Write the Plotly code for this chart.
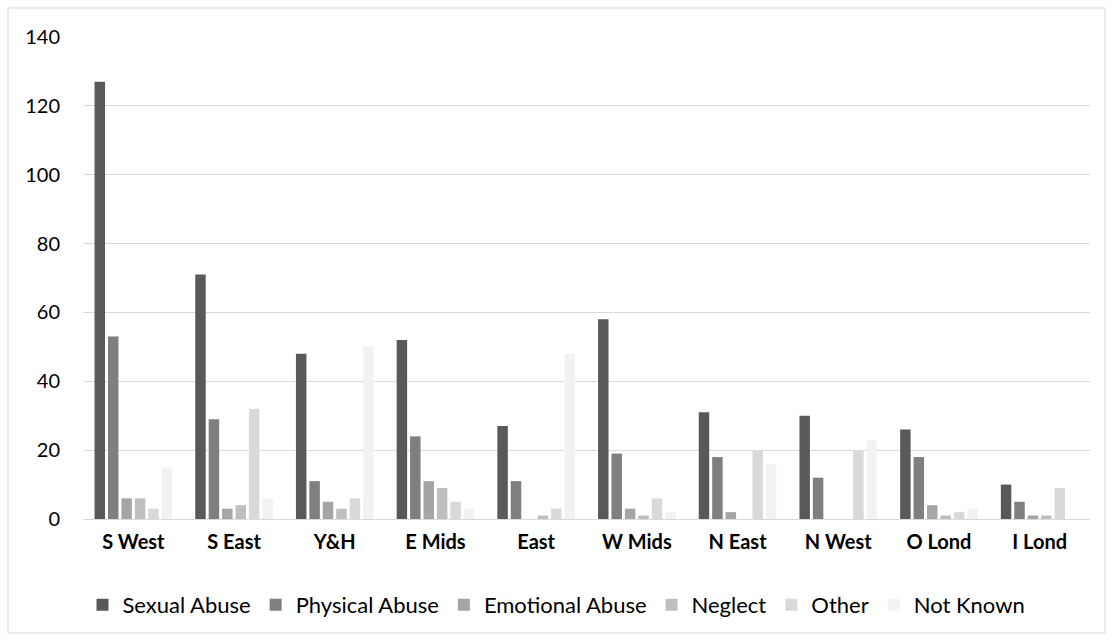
import plotly.graph_objects as go

regions = ["S West", "S East", "Y&H", "E Mids", "East", "W Mids", "N East", "N West", "O Lond", "I Lond"]

sexual_abuse = [127, 71, 48, 52, 27, 58, 31, 30, 26, 10]
physical_abuse = [53, 29, 11, 24, 11, 19, 18, 12, 18, 5]
emotional_abuse = [6, 3, 5, 11, 0, 3, 2, 0, 4, 1]
neglect = [6, 4, 3, 9, 1, 1, 0, 0, 1, 1]
other = [3, 32, 6, 5, 3, 6, 20, 20, 2, 9]
not_known = [15, 6, 50, 3, 48, 2, 16, 23, 3, 0]

series = [
    ("Sexual Abuse", sexual_abuse, "#595959"),
    ("Physical Abuse", physical_abuse, "#7f7f7f"),
    ("Emotional Abuse", emotional_abuse, "#a5a5a5"),
    ("Neglect", neglect, "#bfbfbf"),
    ("Other", other, "#d9d9d9"),
    ("Not Known", not_known, "#f2f2f2"),
]

FONT = "Lato, Carlito, Calibri, sans-serif"

fig = go.Figure()
for name, vals, color in series:
    fig.add_trace(go.Bar(
        name=name, x=regions, y=vals,
        marker=dict(color=color, line=dict(width=0)),
    ))

W, H = 1114, 642
L, R, T, B = 83, 24, 37, 123
pw, ph = W - L - R, H - T - B

# outer chart border, positioned in paper units from pixel coordinates
bx0, bx1, by0, by1 = 8, 1105, 8, 633
x0, x1 = (bx0 - L) / pw, (bx1 - L) / pw
y1, y0 = (H - B - by0) / ph, (H - B - by1) / ph

# legend is centred on the whole chart frame rather than the plot area
legend_x = ((bx0 + bx1) / 2 - L) / pw

fig.update_layout(
    width=W, height=H,
    margin=dict(l=L, r=R, t=T, b=B),
    paper_bgcolor="white", plot_bgcolor="white",
    barmode="group", bargap=0.2, bargroupgap=0.22,
    font=dict(family=FONT, size=20, color="#000000"),
    showlegend=True,
    legend=dict(
        orientation="h", x=legend_x, xanchor="center", y=-0.135, yanchor="top",
        font=dict(family=FONT, size=22, color="#000000"),
        traceorder="normal", itemwidth=30,
    ),
    xaxis=dict(
        showgrid=False, showline=True, linecolor="#d9d9d9", linewidth=1,
        ticks="", tickfont=dict(family=FONT, size=20, color="#000000", weight="bold"),
        ticklabelstandoff=5,
    ),
    yaxis=dict(
        range=[0, 140], dtick=20, showgrid=True, gridcolor="#d9d9d9", gridwidth=1,
        zeroline=False, showline=False, ticks="",
        tickfont=dict(family=FONT, size=20, color="#000000"),
        ticklabelstandoff=22,
    ),
    shapes=[dict(
        type="rect", xref="paper", yref="paper",
        x0=x0, x1=x1, y0=y0, y1=y1,
        line=dict(color="#d9d9d9", width=1), fillcolor="rgba(0,0,0,0)", layer="below",
    )],
)

fig.write_html("out.html")
